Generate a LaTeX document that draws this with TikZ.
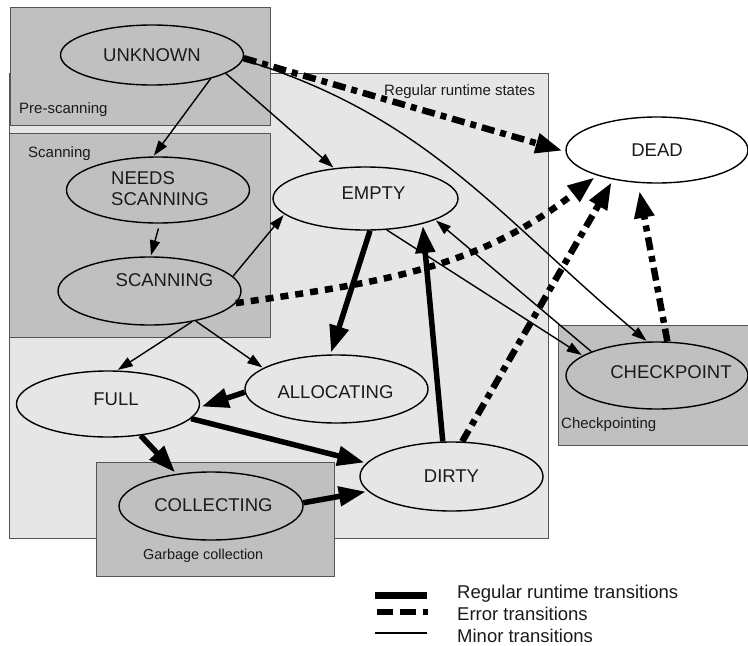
\documentclass[tikz,border=0pt]{standalone}
\usepackage{fontspec}
\setmainfont{Liberation Sans}
\usetikzlibrary{arrows.meta,shapes.geometric}
\definecolor{dk}{HTML}{C0C0C0}
\definecolor{lt}{HTML}{E6E6E6}
\definecolor{bd}{HTML}{555555}
\definecolor{tx}{HTML}{1A1A1A}
\begin{document}
\begin{tikzpicture}[x=1pt,y=-1pt,
  st/.style={ellipse, draw=black, line width=1.4pt, minimum width=183pt, minimum height=67pt, inner sep=0pt},
  nt/.style={font=\fontsize{18.5}{21}\selectfont, text=tx, inner sep=0pt},
  bx/.style={draw=bd, line width=0.9pt},
  bl/.style={font=\fontsize{15}{17}\selectfont, text=tx, inner sep=0pt, anchor=base west},
  minor/.style={line width=1.4pt, -{Triangle[length=15pt,width=10pt]}, shorten >=1pt},
  regtr/.style={line width=5.5pt, -{Triangle[length=27pt,width=19pt]}, shorten >=2pt},
  errtr/.style={line width=6.5pt, dash pattern=on 13pt off 6pt on 6pt off 6pt, -{Triangle[length=27pt,width=19pt]}, shorten >=3pt},
  errdot/.style={line width=6.5pt, dash pattern=on 8pt off 7pt, -{Triangle[length=27pt,width=19pt]}, shorten >=3pt}
]
\useasboundingbox (0,0) rectangle (748,646);

% group boxes
\draw[bx, fill=lt] (9,73) rectangle (548,538);
\draw[bx, fill=dk] (10,7) rectangle (270,125);
\draw[bx, fill=dk] (9,133) rectangle (270,337);
\draw[bx, fill=dk] (96,462) rectangle (334,576);
\draw[bx, fill=dk] (558,325) rectangle (750,445);

\node[bl] (lpre) at (19,113.5) {Pre-scanning};
\node[bl] (lscan) at (28,157.5) {Scanning};
\node[bl] (lreg) at (384,95.5) {Regular runtime states};
\node[bl, font=\fontsize{14.4}{17}\selectfont] (lgc) at (143,559.5) {Garbage collection};
\node[bl] (lcp) at (561,428) {Checkpointing};

% states
\node[st, fill=dk, minimum height=60pt, label={[nt]center:UNKNOWN}] (unk) at (152,55) {};
\node[st, fill=dk, minimum height=66pt, label={[nt, align=left, xshift=2pt, yshift=1.5pt]center:NEEDS\\SCANNING}] (needs) at (158,190) {};
\node[st, fill=dk, minimum height=68pt, label={[nt, xshift=15pt, yshift=10.5pt]center:SCANNING}] (scan) at (149.5,291) {};
\node[st, fill=lt, minimum width=185pt, minimum height=63pt, label={[nt, xshift=8pt, yshift=5pt]center:EMPTY}] (empty) at (365.5,198.5) {};
\node[st, fill=white, minimum width=182pt, minimum height=66pt, label={[nt]center:DEAD}] (dead) at (657,150) {};
\node[st, fill=lt, minimum height=66pt, label={[nt, xshift=8pt, yshift=4.5pt]center:FULL}] (full) at (108,404) {};
\node[st, fill=lt, minimum height=68pt, label={[nt, xshift=-1pt, yshift=-3.5pt]center:ALLOCATING}] (alloc) at (336.5,389) {};
\node[st, fill=dk, minimum width=184pt, minimum height=68pt, label={[nt, xshift=2.5pt, yshift=1pt]center:COLLECTING}] (coll) at (211,506) {};
\node[st, fill=lt, minimum height=69pt, label={[nt]center:DIRTY}] (dirty) at (451.5,476.5) {};
\node[st, fill=dk, minimum width=182pt, label={[nt, xshift=14pt, yshift=3pt]center:CHECKPOINT}] (chk) at (657,375.5) {};

% transitions
\draw[minor] (unk.-22) -- (needs.98);
\draw[minor] (unk.-14) -- (empty.136);
\draw[errtr] (unk.-2) -- (dead.181);
\draw[minor] (unk.-3) to[out=-17,in=140] (chk.106);
\draw[minor, shorten <=5pt] (needs.-87) -- (scan.88);
\draw[minor] (scan.10) -- (empty.-169);
\draw[errdot] (scan.-8) to[out=8,in=-142] (dead.203);
\draw[minor] (scan.-36) -- (full.75);
\draw[minor] (scan.-33) -- (alloc.164);
\draw[regtr] (empty.-82) -- (alloc.100);
\draw[minor] (empty.-56) -- (chk.165);
\draw[minor] (chk.160) -- (empty.-17);
\draw[regtr] (alloc.182) -- (full.-2);
\draw[regtr] (full.-44) -- (coll.137);
\draw[regtr] (full.-10) -- (dirty.171);
\draw[regtr] (coll.2) -- (dirty.190);
\draw[regtr] (dirty.104) -- (empty.-24);
\draw[errtr] (dirty.73) -- (dead.214);
\draw[errtr, shorten >=8pt] (chk.73) -- (dead.240);

% legend
\coordinate (l1a) at (375,595); \coordinate (l1b) at (427,595);
\coordinate (l2a) at (377,612); \coordinate (l2b) at (428,612);
\coordinate (l3a) at (375,633); \coordinate (l3b) at (427,633);
\draw[line width=7pt] (l1a) -- (l1b);
\draw[line width=6pt, dash pattern=on 16pt off 7pt] (l2a) -- (l2b);
\draw[line width=1.4pt] (l3a) -- (l3b);
\node[nt, anchor=base west] (t1) at (457,598) {Regular runtime transitions};
\node[nt, anchor=base west] (t2) at (457,620) {Error transitions};
\node[nt, anchor=base west] (t3) at (457,642) {Minor transitions};
\end{tikzpicture}
\end{document}
